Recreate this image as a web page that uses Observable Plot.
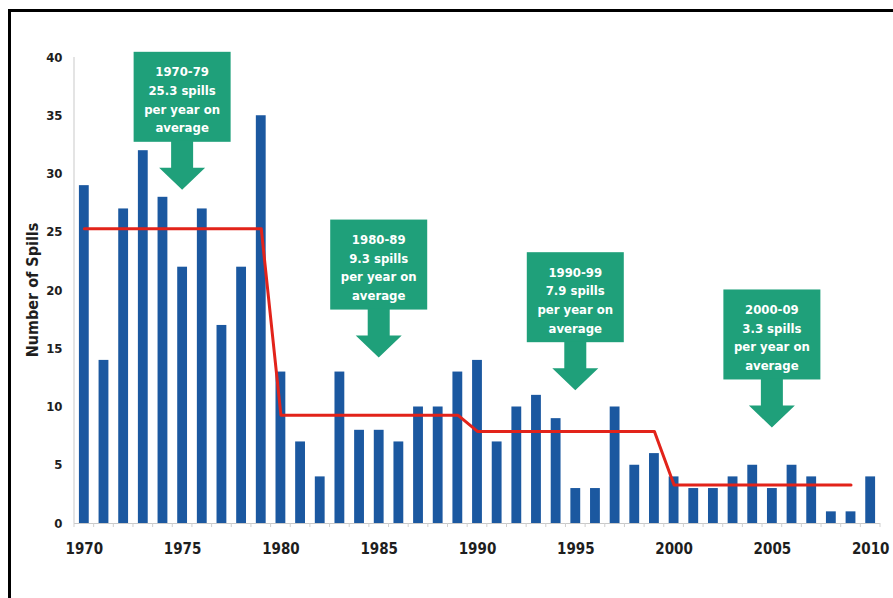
<!DOCTYPE html>
<html><head><meta charset="utf-8">
<script src="https://cdn.jsdelivr.net/npm/d3@7"></script>
<script src="https://cdn.jsdelivr.net/npm/@observablehq/plot@0.6"></script>
<style>
html,body{margin:0;padding:0;background:#fff;}
#wrap{position:relative;width:893px;height:598px;overflow:hidden;background:#fff;}
#border{position:absolute;left:8px;top:9px;width:900px;height:600px;border-left:3px solid #000;border-top:3px solid #000;}
#wrap svg{position:absolute;left:0;top:0;}
</style></head><body><div id="wrap"><div id="border"></div></div>
<script>
// ---- data ----
const years = [1970,1971,1972,1973,1974,1975,1976,1977,1978,1979,
               1980,1981,1982,1983,1984,1985,1986,1987,1988,1989,
               1990,1991,1992,1993,1994,1995,1996,1997,1998,1999,
               2000,2001,2002,2003,2004,2005,2006,2007,2008,2009,2010];
const spills = [29,14,27,32,28,22,27,17,22,35,
                13,7,4,13,8,8,7,10,10,13,
                14,7,10,11,9,3,3,10,5,6,
                4,3,3,4,5,3,5,4,1,1,4];
const decades = [1970, 1980, 1990, 2000];
const decadeAvg = [25.3, 9.3, 7.9, 3.3];
const decadeLabels = ["1970-79", "1980-89", "1990-99", "2000-09"];
const calloutYear = [1975, 1985, 1995, 2005];
const calloutTip = [28.6, 14.2, 11.4, 8.2];
const xTickYears = [1970, 1975, 1980, 1985, 1990, 1995, 2000, 2005, 2010];
const yTicks = [0, 5, 10, 15, 20, 25, 30, 35, 40];
const yLabel = "Number of Spills";

// ---- derived tables ----
const table = years.map((year, i) => ({year, spills: spills[i]}));
const avgTable = years
  .filter(y => y < decades[decades.length - 1] + 10)
  .map(year => ({year, avg: decadeAvg[decades.indexOf(Math.floor(year / 10) * 10)]}));

const FONT = '"Liberation Sans Narrow", "Arial Narrow", "DejaVu Sans Condensed", sans-serif';

const chart = Plot.plot({
  width: 893, height: 598,
  marginLeft: 74, marginRight: 13, marginTop: 57, marginBottom: 75,
  style: {fontFamily: FONT, fontWeight: "bold", color: "#1e1e1e", background: "transparent", overflow: "visible"},
  x: {type: "band", domain: years, paddingInner: 0.5, paddingOuter: 0.25, round: false, label: null},
  y: {domain: [0, 40], label: null},
  marks: [
    Plot.barY(table, {x: "year", y: "spills", fill: "#1b58a0"}),
    Plot.ruleY([0], {stroke: "#c9c9c9", strokeWidth: 1.2}),
    Plot.line(avgTable, {x: "year", y: "avg", stroke: "#e2231a", strokeWidth: 3}),
    Plot.axisX({ticks: xTickYears, tickFormat: d => String(d), tickSize: 0, tickPadding: 20, fontSize: 15, label: null}),
    Plot.axisY({ticks: yTicks, tickSize: 0, tickPadding: 12, fontSize: 13, label: null})
  ]
});
document.getElementById("wrap").appendChild(chart);

// ---- annotations drawn through the plot's own scales ----
const xs = chart.scale("x"), ys = chart.scale("y");
const svg = d3.select(chart);
const gap = xs.step - xs.bandwidth;
const y0 = ys.apply(0), y40 = ys.apply(40);
const left = xs.apply(years[0]) - gap / 2;
const right = xs.apply(years[years.length - 1]) + xs.bandwidth + gap / 2;

// y axis line
svg.append("line").attr("x1", left).attr("x2", left).attr("y1", y40).attr("y2", y0)
  .attr("stroke", "#d2d2d2").attr("stroke-width", 1.2);
// small category ticks
const tg = svg.append("g").attr("stroke", "#cfcfcf");
years.concat([null]).forEach((yr) => {
  const x = yr === null ? right : xs.apply(yr) - gap / 2;
  tg.append("line").attr("x1", x).attr("x2", x).attr("y1", y0).attr("y2", y0 + 4);
});
// y axis title
svg.append("text").text(yLabel)
  .attr("transform", `translate(38,${(y0 + y40) / 2}) rotate(-90)`)
  .attr("text-anchor", "middle").attr("font-size", 16).attr("font-weight", "bold")
  .attr("font-family", FONT).attr("fill", "#1e1e1e");

// callouts
decadeLabels.forEach((lab, i) => {
  const tx = xs.apply(calloutYear[i]) + xs.bandwidth / 2;
  const ty = ys.apply(calloutTip[i]);
  const g = svg.append("g");
  g.append("rect").attr("x", tx - 48.5).attr("y", ty - 138).attr("width", 97).attr("height", 90)
    .attr("fill", "#1fa07a");
  g.append("polygon").attr("points", [
      [tx - 11, ty - 49], [tx + 11, ty - 49], [tx + 11, ty - 22], [tx + 23, ty - 22],
      [tx, ty], [tx - 23, ty - 22], [tx - 11, ty - 22]
    ].map(p => p.join(",")).join(" "))
    .attr("fill", "#1fa07a");
  const lines = [lab, `${decadeAvg[i]} spills`, "per year on", "average"];
  lines.forEach((t, j) => {
    g.append("text").text(t)
      .attr("x", tx).attr("y", ty - 138 + 20 + j * 18.7)
      .attr("dominant-baseline", "central").attr("text-anchor", "middle")
      .attr("fill", "#fff").attr("font-size", 13).attr("font-weight", "bold")
      .attr("font-family", FONT);
  });
});
</script>
</body></html>
